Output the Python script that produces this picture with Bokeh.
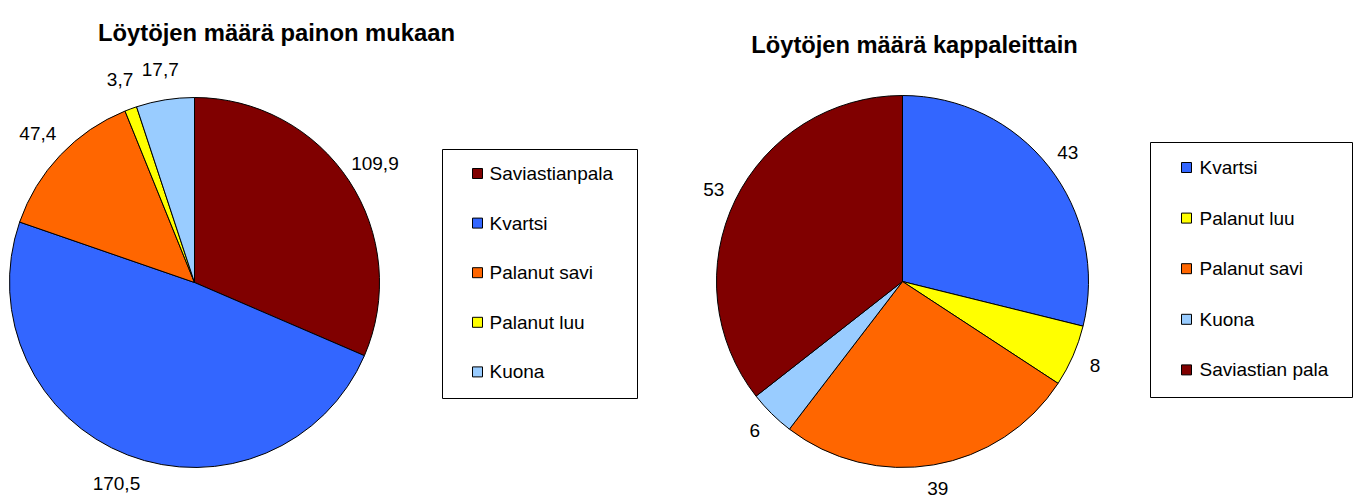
import math
from bokeh.plotting import figure
from bokeh.models import Range1d, ColumnDataSource
from bokeh.core.properties import value
from bokeh.embed import file_html
from bokeh.resources import INLINE

# ---- data ----
title_left = "Löytöjen määrä painon mukaan"
cats_left = ["Saviastianpala", "Kvartsi", "Palanut savi", "Palanut luu", "Kuona"]
vals_left = [109.9, 170.5, 47.4, 3.7, 17.7]
cols_left = ["#800000", "#3366FF", "#FF6600", "#FFFF00", "#99CCFF"]

title_right = "Löytöjen määrä kappaleittain"
cats_right = ["Kvartsi", "Palanut luu", "Palanut savi", "Kuona", "Saviastian pala"]
vals_right = [43, 8, 39, 6, 53]
cols_right = ["#3366FF", "#FFFF00", "#FF6600", "#99CCFF", "#800000"]

W, H = 1355, 500
FONT = "Liberation Sans"

p = figure(width=W, height=H, x_range=Range1d(0, W), y_range=Range1d(0, H),
           output_backend="svg", toolbar_location=None,
           x_axis_location=None, y_axis_location=None, min_border=0)
p.grid.visible = False
p.outline_line_color = None
p.background_fill_color = "white"
p.border_fill_color = "white"


def Y(py):
    return H - py


def pie(cats, vals, cols, fmt, cx, cy, r, lab_r):
    total = sum(vals)
    starts, ends, lx, ly, labels = [], [], [], [], []
    cum = 0.0
    for v in vals:
        a0 = math.pi / 2 - cum / total * 2 * math.pi
        cum += v
        a1 = math.pi / 2 - cum / total * 2 * math.pi
        starts.append(a0)
        ends.append(a1)
        mid = (a0 + a1) / 2
        lx.append(cx + lab_r * math.cos(mid))
        ly.append(Y(cy) + lab_r * math.sin(mid))
        labels.append(fmt(v))
    src = ColumnDataSource(dict(start=starts, end=ends, color=cols, cat=cats))
    p.wedge(x=cx, y=Y(cy), radius=r, start_angle="start", end_angle="end",
            direction="clock", fill_color="color", line_color="black",
            line_width=1, source=src)
    p.text(x=lx, y=ly, text=labels, text_font=value(FONT), text_font_size="19px",
           text_align="center", text_baseline="middle", text_color="#000000")


def legend(cats, cols, x0, x1, y0, y1, sq_x, txt_x, first_y, step):
    p.quad(left=x0, right=x1, top=Y(y0), bottom=Y(y1), fill_color=None,
           line_color="black", line_width=1)
    ys = [Y(first_y + i * step) for i in range(len(cats))]
    p.rect(x=[sq_x] * len(cats), y=ys, width=10, height=10, fill_color=cols,
           line_color="black", line_width=1)
    p.text(x=[txt_x] * len(cats), y=ys, text=cats, text_font=value(FONT),
           text_font_size="19px", text_align="left", text_baseline="middle",
           text_color="#000000")


fmt_l = lambda v: f"{v:.1f}".replace(".", ",")
fmt_r = lambda v: f"{v:d}"

pie(cats_left, vals_left, cols_left, fmt_l, 194, 282, 185, 216)
pie(cats_right, vals_right, cols_right, fmt_r, 902, 281, 186, 210)

legend(cats_left, cols_left, 442, 637, 149, 398, 477, 489, 173, 49.6)
legend(cats_right, cols_right, 1150, 1352, 142, 397, 1186, 1199, 167, 50.6)

p.text(x=[276], y=[Y(31.7)], text=[title_left], text_font=value(FONT),
       text_font_size="23.8px", text_font_style="bold", text_align="center",
       text_baseline="alphabetic", text_color="#000000")
p.text(x=[914], y=[Y(44)], text=[title_right], text_font=value(FONT),
       text_font_size="23.7px", text_font_style="bold", text_align="center",
       text_baseline="alphabetic", text_color="#000000")

open("out.html", "w").write(file_html(p, INLINE))
